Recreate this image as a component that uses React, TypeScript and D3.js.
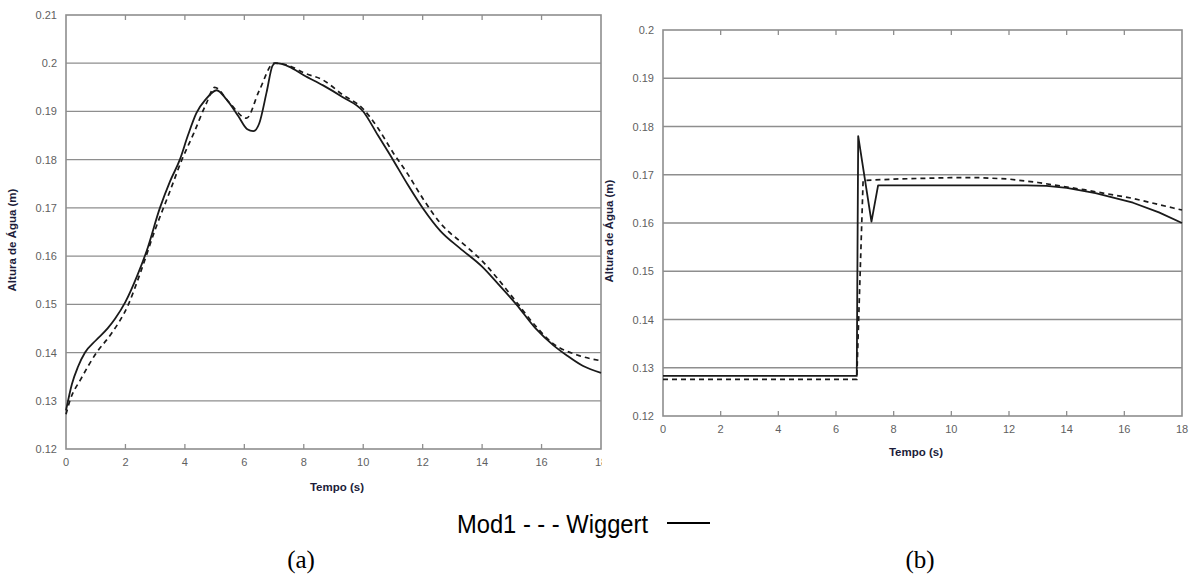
import { useEffect, useRef } from "react";
import * as d3 from "d3";

const W = 1193;
const H = 575;

const xTicks = [0, 2, 4, 6, 8, 10, 12, 14, 16, 18];
const leftYTicks = [0.12, 0.13, 0.14, 0.15, 0.16, 0.17, 0.18, 0.19, 0.2, 0.21];
const rightYTicks = [0.12, 0.13, 0.14, 0.15, 0.16, 0.17, 0.18, 0.19, 0.2];

// (a) tempo, altura
const leftWiggert: [number, number][] = [
  [0, 0.128], [0.2, 0.1335], [0.4, 0.137], [0.64, 0.14], [1.0, 0.1425], [1.4, 0.145],
  [1.65, 0.147], [2.0, 0.1505], [2.4, 0.156], [2.71, 0.161], [3.16, 0.17], [3.5, 0.1755],
  [3.83, 0.18], [4.1, 0.185], [4.39, 0.1897], [4.7, 0.1925], [5.07, 0.1944], [5.4, 0.1925],
  [5.8, 0.189], [6.1, 0.1863], [6.3, 0.1859], [6.5, 0.1875], [6.75, 0.194], [6.95, 0.1995],
  [7.05, 0.2], [7.5, 0.1993], [8.0, 0.1975], [8.65, 0.1954], [9.3, 0.193], [10.0, 0.19],
  [10.5, 0.185], [11.0, 0.18], [11.5, 0.1748], [12.0, 0.17], [12.6, 0.1652], [13.24, 0.1617],
  [14.0, 0.1578], [14.5, 0.1545], [15.15, 0.15], [15.8, 0.145], [16.4, 0.1415], [16.83, 0.1395],
  [17.4, 0.1372], [18, 0.1358],
];

const leftMod1: [number, number][] = [
  [0, 0.1272], [0.13, 0.13], [0.5, 0.1345], [1.03, 0.14], [1.5, 0.1437], [2.1, 0.15],
  [2.5, 0.1565], [3.0, 0.1655], [3.5, 0.1735], [3.9, 0.18], [4.3, 0.1855], [4.73, 0.1918],
  [5.0, 0.195], [5.5, 0.1918], [6.07, 0.1886], [6.5, 0.1943], [7.0, 0.2], [7.5, 0.1995],
  [8.0, 0.198], [8.65, 0.1965], [9.3, 0.1935], [10.0, 0.1905], [10.5, 0.1865], [11.0, 0.1815],
  [11.5, 0.177], [12.0, 0.172], [12.6, 0.1668], [13.47, 0.162], [14.0, 0.159], [14.5, 0.1555],
  [15.15, 0.1505], [15.8, 0.1455], [16.4, 0.1418], [17.2, 0.1395], [18, 0.1383],
];

// (b) tempo, altura
const rightWiggert: [number, number][] = [
  [0, 0.1283], [6.72, 0.1283], [6.77, 0.178], [7.23, 0.1603], [7.46, 0.1678], [12.6, 0.1678],
  [13.3, 0.1677], [14.0, 0.1673], [15.0, 0.1662], [16.3, 0.1642], [17.2, 0.1622], [18, 0.16],
];

const rightMod1: [number, number][] = [
  [0, 0.1276], [6.72, 0.1276], [6.94, 0.1688], [8, 0.1691], [10, 0.1694], [11, 0.1694],
  [12, 0.1691], [13, 0.1684], [14.6, 0.1669], [16.3, 0.1651], [17.7, 0.1631], [18, 0.1627],
];

const PANELS = [
  { id: "a", wiggert: leftWiggert, mod1: leftMod1, yTicks: leftYTicks, smooth: true,
    left: 66, right: 601, top: 15, bottom: 449, clipRight: 602, yTitleX: 16, xTitleX: 337, xTitleY: 491 },
  { id: "b", wiggert: rightWiggert, mod1: rightMod1, yTicks: rightYTicks, smooth: false,
    left: 663, right: 1182, top: 30, bottom: 416, clipRight: W, yTitleX: 613, xTitleX: 916, xTitleY: 456 },
];

const GRID = "#8e8e8e";
const TICK_TEXT = "#5f5f5f";
const TITLE = "#1c1c3a";
const LINE = "#1a1a1a";

export default function App() {
  const svgRef = useRef<SVGSVGElement>(null);

  useEffect(() => {
    const svg = d3.select(svgRef.current);
    svg.selectAll("*").remove();
    svg.append("rect").attr("width", W).attr("height", H).attr("fill", "#fff");

    PANELS.forEach((p) => {
      const x = d3.scaleLinear().domain([0, 18]).range([p.left, p.right]);
      const yDom = d3.extent(p.yTicks) as [number, number];
      const y = d3.scaleLinear().domain(yDom).range([p.bottom, p.top]);

      svg.append("clipPath").attr("id", `clip-${p.id}`)
        .append("rect").attr("x", 0).attr("y", 0).attr("width", p.clipRight).attr("height", H);
      const g = svg.append("g").attr("clip-path", `url(#clip-${p.id})`);

      // Grid
      g.append("g")
        .selectAll("line")
        .data(p.yTicks.slice(1, -1))
        .join("line")
        .attr("x1", p.left).attr("x2", p.right)
        .attr("y1", (d) => y(d)).attr("y2", (d) => y(d))
        .attr("stroke", GRID).attr("stroke-width", 1.3);

      // Frame
      g.append("rect")
        .attr("x", p.left).attr("y", p.top)
        .attr("width", p.right - p.left).attr("height", p.bottom - p.top)
        .attr("fill", "none").attr("stroke", GRID).attr("stroke-width", 1.6);

      // Tick marks, pointing inward
      const inner = xTicks.slice(1, -1);
      g.append("g").selectAll("line").data(inner).join("line")
        .attr("x1", (d) => x(d)).attr("x2", (d) => x(d))
        .attr("y1", p.bottom).attr("y2", p.bottom - 5)
        .attr("stroke", GRID).attr("stroke-width", 1.3);
      g.append("g").selectAll("line").data(inner).join("line")
        .attr("x1", (d) => x(d)).attr("x2", (d) => x(d))
        .attr("y1", p.top).attr("y2", p.top + 5)
        .attr("stroke", GRID).attr("stroke-width", 1.3);

      // Axis labels
      g.append("g").selectAll("text").data(xTicks).join("text")
        .attr("x", (d) => x(d)).attr("y", p.bottom + 17)
        .attr("text-anchor", "middle")
        .attr("font-family", "Liberation Sans, Arial, sans-serif")
        .attr("font-size", 11).attr("fill", TICK_TEXT)
        .text((d) => d3.format("d")(d));
      g.append("g").selectAll("text").data(p.yTicks).join("text")
        .attr("x", p.left - 9).attr("y", (d) => y(d) + 4)
        .attr("text-anchor", "end")
        .attr("font-family", "Liberation Sans, Arial, sans-serif")
        .attr("font-size", 11).attr("fill", TICK_TEXT)
        .text((d) => d3.format("")(+d.toFixed(2)));

      // Titles
      g.append("text")
        .attr("x", p.xTitleX).attr("y", p.xTitleY)
        .attr("text-anchor", "middle")
        .attr("font-family", "Liberation Sans, Arial, sans-serif")
        .attr("font-size", 11.5).attr("font-weight", "bold").attr("fill", TITLE)
        .text("Tempo (s)");
      g.append("text")
        .attr("transform", `translate(${p.yTitleX},${(p.top + p.bottom) / 2 + 8}) rotate(-90)`)
        .attr("text-anchor", "middle")
        .attr("font-family", "Liberation Sans, Arial, sans-serif")
        .attr("font-size", 11.5).attr("font-weight", "bold").attr("fill", TITLE)
        .text("Altura de Água (m)");

      // Series
      const line = d3.line<[number, number]>()
        .x((d) => x(d[0])).y((d) => y(d[1]))
        .curve(p.smooth ? d3.curveMonotoneX : d3.curveLinear);

      g.append("path").datum(p.mod1)
        .attr("d", line).attr("fill", "none")
        .attr("stroke", LINE).attr("stroke-width", 1.7)
        .attr("stroke-dasharray", "5,4");
      g.append("path").datum(p.wiggert)
        .attr("d", line).attr("fill", "none")
        .attr("stroke", LINE).attr("stroke-width", 1.8)
        .attr("stroke-linejoin", "round");
    });

    // Legend
    svg.append("text")
      .attr("x", 457).attr("y", 533)
      .attr("font-family", "Liberation Sans, Arial, sans-serif")
      .attr("font-size", 26)
      .attr("textLength", 191).attr("lengthAdjust", "spacingAndGlyphs")
      .attr("fill", "#000")
      .text("Mod1 - - - Wiggert");
    svg.append("line")
      .attr("x1", 667).attr("x2", 710).attr("y1", 523).attr("y2", 523)
      .attr("stroke", "#000").attr("stroke-width", 2);

    // Captions
    [["(a)", 301], ["(b)", 920]].forEach(([t, cx]) => {
      svg.append("text")
        .attr("x", cx).attr("y", 568)
        .attr("text-anchor", "middle")
        .attr("font-family", "Liberation Serif, Times New Roman, serif")
        .attr("font-size", 25).attr("fill", "#000")
        .text(t as string);
    });
  }, []);

  return (
    <div style={{ position: "absolute", left: 0, top: 0, width: W, height: H }}>
      <svg ref={svgRef} width={W} height={H} style={{ display: "block" }} />
    </div>
  );
}
